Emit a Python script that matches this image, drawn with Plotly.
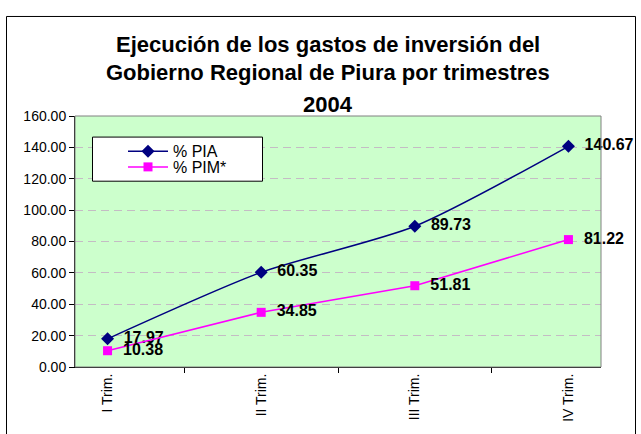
import plotly.graph_objects as go

categories = ["I Trim.", "II Trim.", "III Trim.", "IV Trim."]
pia_values = [17.97, 60.35, 89.73, 140.67]
pim_values = [10.38, 34.85, 51.81, 81.22]
series_names = ["% PIA", "% PIM*"]
title_lines = ["Ejecución de los gastos de inversión del",
               "Gobierno Regional de Piura por trimestres",
               "2004"]

W, H = 641, 434
L, R, T, B = 75, 40, 116, 62
PW, PH = W - L - R, H - T - B

def px_x(px):
    return (px - L) / PW

def px_y(py):
    return (H - B - py) / PH

FONT = "Liberation Sans, Arial, sans-serif"

fig = go.Figure()
fig.add_trace(go.Scatter(
    x=categories, y=pia_values, name=series_names[0],
    mode="lines+markers+text", legend="legend",
    line=dict(color="#000080", width=1.5, shape="spline", smoothing=0.7),
    marker=dict(symbol="diamond", size=10, color="#000080"),
    text=["  " + f"{v:.2f}" for v in pia_values],
    textposition="middle right", cliponaxis=False,
    textfont=dict(family=FONT, size=16, color="#000000", weight="bold"),
))
fig.add_trace(go.Scatter(
    x=categories, y=pim_values, name=series_names[1],
    mode="lines+markers+text", legend="legend2",
    line=dict(color="#FF00FF", width=1.5),
    marker=dict(symbol="square", size=9, color="#FF00FF"),
    text=["  " + f"{v:.2f}" for v in pim_values],
    textposition="middle right", cliponaxis=False,
    textfont=dict(family=FONT, size=16, color="#000000", weight="bold"),
))

shapes = [
    # outer chart border
    dict(type="rect", xref="paper", yref="paper",
         x0=px_x(6.5), x1=px_x(635.5), y0=px_y(446), y1=px_y(14.5),
         line=dict(color="#000000", width=1), fillcolor="rgba(0,0,0,0)", layer="above"),
    # plot area border
    dict(type="rect", xref="paper", yref="paper", x0=0, x1=1, y0=0, y1=1,
         line=dict(color="#808080", width=1), fillcolor="rgba(0,0,0,0)", layer="above"),
    # legend box
    dict(type="rect", xref="paper", yref="paper",
         x0=px_x(92.5), x1=px_x(262.5), y0=px_y(182.5), y1=px_y(137.5),
         line=dict(color="#000000", width=1), fillcolor="#FFFFFF", layer="above"),
]

title_y = [43.5, 72, 104.5]
annotations = [
    dict(text=t, xref="paper", yref="paper", x=px_x(328), y=px_y(yy),
         xanchor="center", yanchor="middle", showarrow=False,
         font=dict(family=FONT, size=22, color="#000000", weight="bold"))
    for t, yy in zip(title_lines, title_y)
]

legend_common = dict(xanchor="left", yanchor="middle",
                     bgcolor="rgba(0,0,0,0)", borderwidth=0,
                     font=dict(family=FONT, size=16, color="#000000"),
                     itemwidth=40)

fig.update_layout(
    width=W, height=H,
    margin=dict(l=L, r=R, t=T, b=B, pad=0),
    paper_bgcolor="#FFFFFF",
    plot_bgcolor="#CCFFCC",
    font=dict(family=FONT, size=14, color="#000000"),
    showlegend=True,
    legend=dict(x=px_x(123), y=px_y(152), **legend_common),
    legend2=dict(x=px_x(123), y=px_y(168), **legend_common),
    shapes=shapes,
    annotations=annotations,
)
fig.update_xaxes(
    type="category", tickangle=-90, tickson="boundaries",
    ticks="outside", ticklen=5, tickcolor="#000000",
    showline=True, linecolor="#000000", linewidth=1,
    showgrid=False, tickfont=dict(family=FONT, size=14),
)
fig.update_yaxes(
    range=[0, 160], dtick=20, tickformat=".2f",
    ticks="outside", ticklen=5, tickcolor="#000000",
    showline=True, linecolor="#000000", linewidth=1,
    showgrid=True, gridcolor="#C4BCC4", griddash="8px,5px", gridwidth=1,
    zeroline=False, tickfont=dict(family=FONT, size=14),
)

fig.write_html("out.html",
               config={"displayModeBar": False, "staticPlot": True},
               post_script="document.body.style.margin='0';document.body.style.overflow='hidden';")
